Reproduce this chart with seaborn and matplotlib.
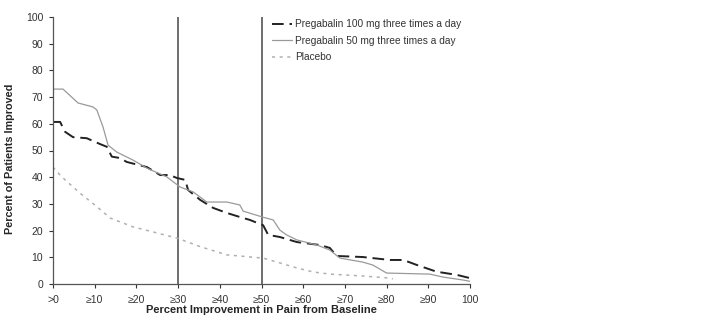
import matplotlib
matplotlib.use("Agg")
import matplotlib.pyplot as plt
import seaborn as sns
import pandas as pd

# Pregabalin 100 mg three times a day (black dashed)
x_100 = [0, 1.7, 2.9, 4.8, 8.1, 11.3, 12.9, 14.1, 16, 17.7, 22.5, 25.7, 28, 29.7, 31.7, 32.4,
         35.3, 38.4, 41.7, 44.8, 47.2, 50.4, 51.6, 54.4, 58.5, 64, 66.4, 68, 74.3, 80.8, 84,
         87.3, 92, 96.9, 100]
y_100 = [60.7, 60.7, 57, 55, 54.6, 52.4, 51.4, 47.7, 47.2, 45.7, 43.8, 40.8, 40.8, 39.7, 39, 35.2,
         31.5, 28.5, 26.6, 25.1, 24, 22, 18.4, 17.6, 15.7, 14.6, 13.5, 10.5, 10.1, 9, 9,
         7.1, 4.6, 3.4, 2.2]

# Pregabalin 50 mg three times a day (grey solid)
x_50 = [0, 2.4, 6, 9.6, 10.5, 12, 13.2, 15.3, 19.2, 22.5, 27.3, 30.5, 33.6, 36.9, 41.7, 44.8,
        45.6, 50.4, 52.8, 54.4, 56, 58.5, 63.3, 66.4, 68.8, 74.3, 76.7, 80, 90.4, 93.5, 98.3, 100]
y_50 = [73, 73, 67.8, 66.3, 65.2, 58.8, 52, 49.4, 46.4, 43.4, 40.1, 36.3, 34.5, 30.7, 30.7, 29.6,
        27.3, 25, 24, 20.2, 18.4, 16.5, 14.6, 12.7, 9.7, 8.2, 7.1, 4.1, 3.7, 2.6, 1.5, 1]

# Placebo (light grey dotted)
x_pl = [0, 1.7, 2.9, 6.5, 10.5, 13.7, 19.2, 24, 29.7, 35.3, 41.7, 50.4, 54.4, 58.5, 62.4, 66.4,
        74.3, 80.8, 81.5]
y_pl = [43.8, 40.8, 39, 34, 29, 24.7, 21.4, 19.5, 17.2, 14, 10.9, 9.7, 7.9, 6, 4.5, 3.7,
        3, 2.2, 1.9]

series_names = ["Pregabalin 100 mg three times a day",
                "Pregabalin 50 mg three times a day",
                "Placebo"]
tick_vals = [0, 10, 20, 30, 40, 50, 60, 70, 80, 90, 100]
tick_labels = [">0", "≥10", "≥20", "≥30", "≥40", "≥50", "≥60", "≥70", "≥80", "≥90", "100"]
ref_lines = [30, 50]

sns.set_style("white")
plt.rcParams['font.family'] = ['Liberation Sans', 'DejaVu Sans']

fig = plt.figure(figsize=(7.08, 3.33), dpi=100)
ax = fig.add_axes([53/708, 1-284/333, (470-53)/708, (284-17)/333])

styles = [
    dict(color="#222222", lw=1.4, dashes=(6, 3)),
    dict(color="#9a9a9a", lw=0.9, dashes=(None, None)),
    dict(color="#b0b0b0", lw=1.1, dashes=(2, 3)),
]
data = [(x_100, y_100), (x_50, y_50), (x_pl, y_pl)]
for (xs, ys), name, st in zip(data, series_names, styles):
    df = pd.DataFrame({"x": xs, "y": ys})
    sns.lineplot(data=df, x="x", y="y", ax=ax, color=st["color"], lw=st["lw"],
                 estimator=None, sort=False, label=name)
    l = ax.lines[-1]
    if st["dashes"][0] is not None:
        l.set_dashes(st["dashes"])

for r in ref_lines:
    ax.axvline(r, color="#555555", lw=1.2, zorder=0)

ax.set_xlim(0, 100)
ax.set_ylim(0, 100)
ax.set_xticks(tick_vals)
ax.set_xticklabels(tick_labels)
ax.set_yticks(range(0, 101, 10))
ax.tick_params(axis="both", labelsize=7.5, colors="#333333", length=3, width=0.8, direction="out",
               bottom=True, left=True, pad=4)
ax.tick_params(axis="x", pad=5)
for s in ["top", "right"]:
    ax.spines[s].set_visible(False)
for s in ["left", "bottom"]:
    ax.spines[s].set_color("#555555")
    ax.spines[s].set_linewidth(0.9)

ax.set_xlabel("Percent Improvement in Pain from Baseline", fontsize=8, fontweight="bold", labelpad=0)
ax.set_ylabel("Percent of Patients Improved", fontsize=7.8, fontweight="bold", labelpad=5)
ax.yaxis.set_label_coords(-14/417 * 2.7, 0.47)

leg = ax.legend(loc="upper left", bbox_to_anchor=(268/708, 1-15/333), bbox_transform=fig.transFigure,
                frameon=False, fontsize=7.3, handlelength=2.0, handletextpad=0.3, labelspacing=0.65,
                borderaxespad=0)
for t in leg.get_texts():
    t.set_color("#333333")

fig.savefig("out.png", dpi=100)
